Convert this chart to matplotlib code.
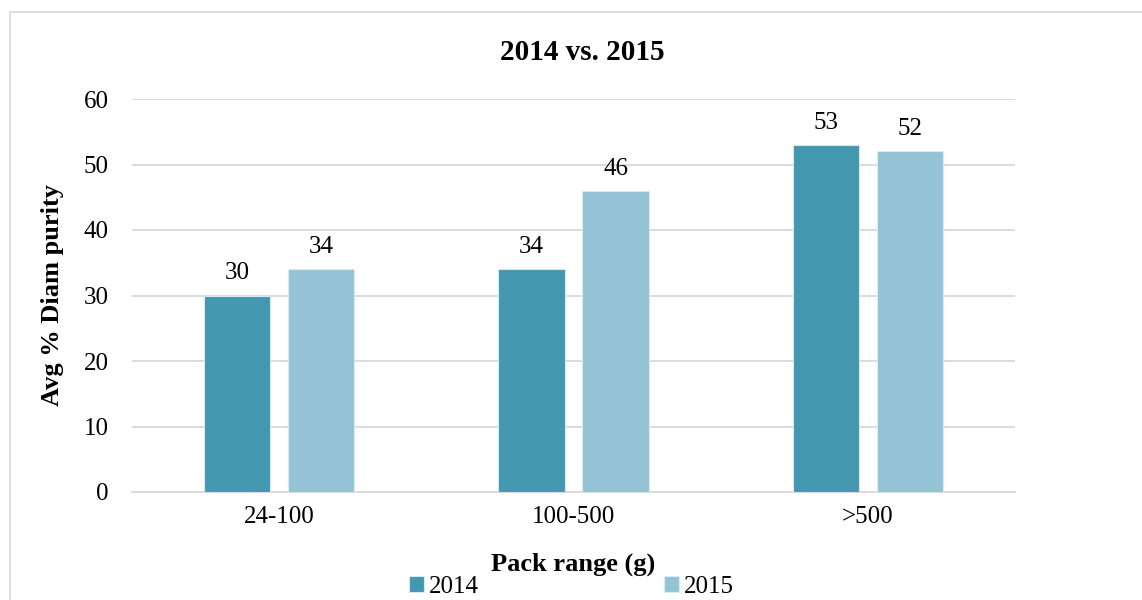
import matplotlib.pyplot as plt
import matplotlib.patches as mpatches
import numpy as np

categories = ["24-100", "100-500", ">500"]
vals_2014 = [30, 34, 53]
vals_2015 = [34, 46, 52]
series_names = ["2014", "2015"]

plt.rcParams['font.family'] = ['Liberation Serif', 'DejaVu Serif']

col_2014 = "#4397AF"
col_2015 = "#93C3D4"

fig = plt.figure(figsize=(11.42, 6.0), dpi=100)
ax = fig.add_axes([0.1156, 0.18, 0.7732, 0.655])

# outer chart border (cut off at right and bottom like the original)
fig.patches.append(mpatches.Rectangle((10 / 1142, -0.1), 1.2, 1 - 12 / 600 + 0.1,
                                      transform=fig.transFigure, fill=False,
                                      edgecolor="#D9D9D9", linewidth=1.2))

x = np.arange(len(categories))
w = 0.225
off = 0.143
b1 = ax.bar(x - off, vals_2014, w, color=col_2014, edgecolor="#D6E9EF", linewidth=0.8,
            label=series_names[0], zorder=3)
b2 = ax.bar(x + off, vals_2015, w, color=col_2015, edgecolor="#DCEBF1", linewidth=0.8,
            label=series_names[1], zorder=3)

for bars in (b1, b2):
    for r in bars:
        ax.annotate(f"{r.get_height():g}", (r.get_x() + r.get_width() / 2, r.get_height()),
                    xytext=(0, 8), textcoords="offset points", ha="center", va="bottom",
                    fontsize=18)

ax.set_xlim(-0.5, 2.5)
ax.set_ylim(0, 60)
ax.set_yticks(range(0, 61, 10))
ax.set_xticks(x)
ax.set_xticklabels(categories)
ax.tick_params(axis="both", length=0, labelsize=18)
ax.tick_params(axis="y", pad=17)
ax.tick_params(axis="x", pad=10)
ax.grid(axis="y", color="#D9D9D9", linewidth=1.3, zorder=0)
for s in ["top", "right", "left"]:
    ax.spines[s].set_visible(False)
ax.spines["bottom"].set_color("#D9D9D9")
ax.spines["bottom"].set_linewidth(1.3)

ax.set_title("2014 vs. 2015", fontsize=21, fontweight="bold", pad=28, x=0.51)
ax.set_xlabel("Pack range (g)", fontsize=19, fontweight="bold", labelpad=18)
ax.set_ylabel("Avg % Diam purity", fontsize=19, fontweight="bold", labelpad=14)

fig.legend(handles=[b1, b2], loc="center", bbox_to_anchor=(0.5, 0.022), ncol=2,
           frameon=False, fontsize=18, handlelength=0.6, handleheight=0.6,
           handletextpad=0.2, columnspacing=7.4, borderpad=0)

fig.savefig("out.png", dpi=100)
